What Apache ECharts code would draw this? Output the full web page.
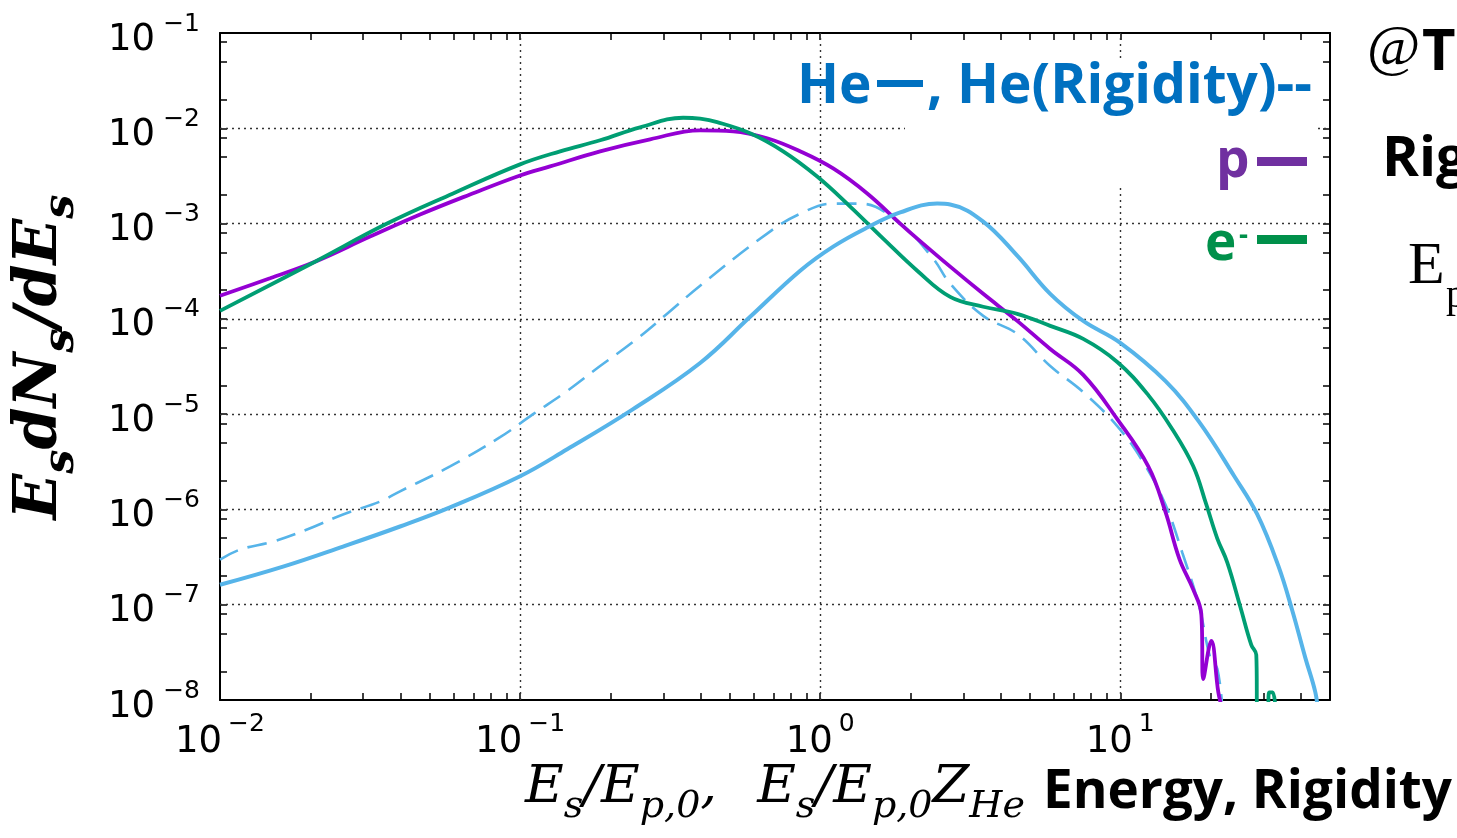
<!DOCTYPE html>
<html>
<head>
<meta charset="utf-8">
<script src="https://cdn.jsdelivr.net/npm/echarts@6/dist/echarts.min.js"></script>
<style>
html,body{margin:0;padding:0;background:#fff;}
#c{width:1457px;height:838px;}
</style>
</head>
<body>
<div id="c"></div>
<script>
// ---------- data ----------
const xTickLabels = [0.01, 0.1, 1, 10];
const yTickLabels = [1e-8, 1e-7, 1e-6, 1e-5, 1e-4, 1e-3, 1e-2, 1e-1];
const xGridValues = [0.1, 1, 10];
const yGridValues = [1e-7, 1e-6, 1e-5, 1e-4, 1e-3, 1e-2];
const xTickValues = [0.01,0.02,0.03,0.04,0.05,0.06,0.07,0.08,0.09,
  0.1,0.2,0.3,0.4,0.5,0.6,0.7,0.8,0.9,1,2,3,4,5,6,7,8,9,10,20,30,40,50];
const yTickValues = [1e-8,2e-8,5e-8,8e-8,1e-7,2e-7,5e-7,8e-7,1e-6,2e-6,5e-6,8e-6,
  1e-5,2e-5,5e-5,8e-5,1e-4,2e-4,5e-4,8e-4,1e-3,2e-3,5e-3,8e-3,1e-2,2e-2,5e-2,8e-2,1e-1];

// p (proton) spectrum
const pSpectrum = [
  [0.01,1.746e-4],[0.01468,2.67e-4],[0.02073,3.98e-4],[0.03162,7.3e-4],[0.04642,1.245e-3],
  [0.0681,2.02e-3],[0.1,3.2e-3],[0.1259,3.98e-3],[0.1848,5.73e-3],[0.2712,7.66e-3],
  [0.3981,9.53e-3],[0.5129,9.3e-3],[0.6659,7.85e-3],[0.8577,5.73e-3],[1.105,3.79e-3],
  [1.435,2.07e-3],[1.848,1.0e-3],[2.106,6.95e-4],[2.712,3.53e-4],[3.494,1.83e-4],
  [4.535,9.53e-5],[5.843,4.83e-5],[7.527,2.58e-5],[9.772,8.86e-6],[12.4,2.83e-6],
  [14.13,9.53e-7],[15.73,3.05e-7],[17.51,1.44e-7],[18.62,8.04e-8],[18.91,1.66e-8],
  [20.11,4.18e-8],[21.22,1.21e-8],[21.9,8e-9]
];
// e- spectrum
const eSpectrum = [
  [0.01,1.214e-4],[0.02073,3.98e-4],[0.03603,1.0e-3],[0.0598,2.07e-3],[0.1,4.18e-3],
  [0.136,5.73e-3],[0.1848,7.48e-3],[0.2512,1.024e-2],[0.3495,1.29e-2],[0.3981,1.26e-2],
  [0.4535,1.16e-2],[0.5843,8.86e-3],[0.7527,5.73e-3],[0.9772,3.12e-3],[1.259,1.51e-3],
  [1.622,6.95e-4],[2.106,3.2e-4],[2.712,1.70e-4],[3.494,1.34e-4],[4.535,1.13e-4],
  [5.843,8.44e-5],[7.527,6.16e-5],[9.772,3.53e-5],[12.4,1.585e-5],[14.91,6.95e-6],
  [17.51,2.835e-6],[19.35,1.128e-6],[21.06,4.95e-7],[22.74,2.77e-7],[25.12,9.53e-8],
  [27.33,3.79e-8],[28.4,2.98e-8],[28.62,8e-9],[30.9,8e-9],[31.4,1.2e-8],[32.2,1.2e-8],[32.9,8e-9]
];
// He spectrum (energy)
const heSpectrum = [
  [0.01,1.62e-7],[0.01622,2.51e-7],[0.0257,4.08e-7],[0.03981,6.62e-7],[0.05843,1.05e-6],
  [0.1,2.23e-6],[0.1435,4.28e-6],[0.238,1.13e-5],[0.3981,3.44e-5],
  [0.5843,1.05e-4],[0.8577,3.2e-4],[1.105,5.73e-4],[1.435,9.08e-4],[1.848,1.31e-3],
  [2.455,1.62e-3],[2.712,1.585e-3],[3.494,1.05e-3],[4.535,4.6e-4],[5.843,1.83e-4],
  [7.527,9.5e-5],[10.0,5.6e-5],[14.13,2.23e-5],[18.34,8.24e-6],[23.99,2.23e-6],
  [28.62,8.86e-7],[33.62,2.57e-7],[37.45,8.65e-8],[41.38,2.77e-8],[44.67,1.21e-8],[45.5,8e-9]
];
// He spectrum (rigidity)
const heRigiditySpectrum = [
  [0.01,2.98e-7],[0.01166,3.79e-7],[0.01502,4.6e-7],[0.0195,6.16e-7],[0.0257,8.86e-7],
  [0.03415,1.21e-6],[0.03981,1.55e-6],[0.05843,2.83e-6],[0.08577,5.73e-6],[0.1105,1.0e-5],
  [0.1435,1.75e-5],[0.1848,3.2e-5],[0.238,5.73e-5],[0.309,1.13e-4],[0.3981,2.23e-4],
  [0.6659,7.85e-4],[0.8577,1.27e-3],[1.105,1.62e-3],[1.359,1.62e-3],[1.848,1.0e-3],
  [2.381,4.28e-4],[2.712,2.34e-4],[3.494,1.075e-4],[4.535,6.95e-5],[5.843,3.2e-5],
  [7.527,1.70e-5],[9.772,7.48e-6],[11.93,3.13e-6],[14.13,1.13e-6],[16.09,3.53e-7],
  [18.34,9.53e-8],[19.95,2.77e-8],[21.06,2.12e-8],[21.9,8e-9]
];

// ---------- chart ----------
const chart = echarts.init(document.getElementById('c'), null, {renderer: 'canvas'});

const logLabel = v => {
  const e = Math.round(Math.log10(v));
  return '{b|10}{s|' + (e < 0 ? '\u2212' : '') + Math.abs(e) + '}';
};
const richX = {
  b: {fontFamily: 'DejaVu Sans', fontSize: 37, lineHeight: 37, color: '#000', padding: [16, 0, 0, 0]},
  s: {fontFamily: 'DejaVu Sans', fontSize: 25, lineHeight: 25, color: '#000', padding: [4, 0, 24, 6]}
};
const richY = {
  b: {fontFamily: 'DejaVu Sans', fontSize: 37, lineHeight: 37, color: '#000', padding: [14, 0, 0, 0]},
  s: {fontFamily: 'DejaVu Sans', fontSize: 25, lineHeight: 25, color: '#000', padding: [4, 0, 22, 8]}
};
const tickStyle = {color: '#000', width: 1.5};
const gridStyle = {color: '#333', width: 1.4, type: [2, 4]};

function xAx(extra) {
  return Object.assign({
    type: 'log', logBase: 10, min: 0.01, max: 50,
    axisLine: {show: false, onZero: false, lineStyle: {color: '#000', width: 2}},
    axisTick: {show: false},
    axisLabel: {show: false},
    splitLine: {show: false},
    minorTick: {show: false}, minorSplitLine: {show: false}
  }, extra);
}
function yAx(extra) {
  return Object.assign({
    type: 'log', logBase: 10, min: 1e-8, max: 1e-1,
    axisLine: {show: false, onZero: false, lineStyle: {color: '#000', width: 2}},
    axisTick: {show: false},
    axisLabel: {show: false},
    splitLine: {show: false},
    minorTick: {show: false}, minorSplitLine: {show: false}
  }, extra);
}

const option = {
  animation: false,
  backgroundColor: '#fff',
  grid: {left: 220, right: 127, top: 33, bottom: 138, containLabel: false},
  xAxis: [
    xAx({position: 'bottom',
      axisLine: {show: true, onZero: false, lineStyle: {color: '#000', width: 2}},
      axisTick: {show: true, inside: true, length: 7, customValues: xTickValues, lineStyle: tickStyle},
      axisLabel: {show: true, customValues: xTickLabels, formatter: logLabel, rich: richX, margin: 16,
        showMinLabel: true, showMaxLabel: true}
    }),
    xAx({position: 'top',
      axisLine: {show: true, onZero: false, lineStyle: {color: '#000', width: 2}},
      axisTick: {show: true, inside: true, length: 7, customValues: xTickValues, lineStyle: tickStyle}
    }),
    xAx({position: 'bottom',
      axisTick: {show: true, inside: true, length: 667, customValues: xGridValues, lineStyle: gridStyle}
    })
  ],
  yAxis: [
    yAx({position: 'left',
      axisLine: {show: true, onZero: false, lineStyle: {color: '#000', width: 2}},
      axisTick: {show: true, inside: true, length: 7, customValues: yTickValues, lineStyle: tickStyle},
      axisLabel: {show: true, customValues: yTickLabels, formatter: logLabel, rich: richY, margin: 20,
        showMinLabel: true, showMaxLabel: true}
    }),
    yAx({position: 'right',
      axisLine: {show: true, onZero: false, lineStyle: {color: '#000', width: 2}},
      axisTick: {show: true, inside: true, length: 7, customValues: yTickValues, lineStyle: tickStyle}
    }),
    yAx({position: 'left',
      axisTick: {show: true, inside: true, length: 1110, customValues: yGridValues, lineStyle: gridStyle}
    })
  ],
  series: [
    {type: 'line', name: 'He (Rigidity)', data: heRigiditySpectrum, xAxisIndex: 0, yAxisIndex: 0,
      showSymbol: false, smooth: 0.4, clip: true, z: 3,
      lineStyle: {color: '#56B4E9', width: 2.6, type: [20, 10]}},
    {type: 'line', name: 'p', data: pSpectrum, xAxisIndex: 0, yAxisIndex: 0,
      showSymbol: false, smooth: 0.4, clip: true, z: 4,
      lineStyle: {color: '#9400D3', width: 3.8}},
    {type: 'line', name: 'e-', data: eSpectrum, xAxisIndex: 0, yAxisIndex: 0,
      showSymbol: false, smooth: 0.4, clip: true, z: 5,
      lineStyle: {color: '#009E73', width: 3.8}},
    {type: 'line', name: 'He', data: heSpectrum, xAxisIndex: 0, yAxisIndex: 0,
      showSymbol: false, smooth: 0.4, clip: true, z: 6,
      lineStyle: {color: '#56B4E9', width: 4}}
  ],
  graphic: [
    // white box behind legend text
    {type: 'rect', z: 1, shape: {x: 905, y: 58, width: 412, height: 128}, style: {fill: '#fff'}},
    {type: 'text', z: 10, x: 797, y: 87, style: {text: 'He', font: 'bold 55px "Open Sans"', fill: '#0070C0', align: 'left', verticalAlign: 'middle'}},
    {type: 'rect', z: 10, shape: {x: 877, y: 80, width: 46, height: 7}, style: {fill: '#0070C0'}},
    {type: 'text', z: 10, x: 927, y: 87, style: {text: ', He(Rigidity)--', font: 'bold 55px "Open Sans"', fill: '#0070C0', align: 'left', verticalAlign: 'middle'}},
    {type: 'text', z: 10, x: 1216, y: 162, style: {text: 'p', font: 'bold 53px "Open Sans"', fill: '#7030A0', align: 'left', verticalAlign: 'middle'}},
    {type: 'rect', z: 10, shape: {x: 1257, y: 157, width: 50, height: 9}, style: {fill: '#7030A0'}},
    {type: 'text', z: 10, x: 1205, y: 245, style: {text: 'e', font: 'bold 53px "Open Sans"', fill: '#00904A', align: 'left', verticalAlign: 'middle'}},
    {type: 'text', z: 10, x: 1239, y: 236, style: {text: '-', font: 'bold 28px "Open Sans"', fill: '#00904A', align: 'left', verticalAlign: 'middle'}},
    {type: 'rect', z: 10, shape: {x: 1257, y: 235, width: 50, height: 9}, style: {fill: '#00904A'}},
    // right side, cut-off annotations
    {type: 'text', z: 10, x: 1367, y: 50, style: {text: '@', font: '58px "Liberation Serif"', fill: '#000', align: 'left', verticalAlign: 'middle'}},
    {type: 'text', z: 10, x: 1422, y: 53, style: {text: 'T', font: 'bold 58px "Open Sans"', fill: '#000', align: 'left', verticalAlign: 'middle'}},
    {type: 'text', z: 10, x: 1382, y: 160, style: {text: 'Rig', font: 'bold 56px "Open Sans"', fill: '#000', align: 'left', verticalAlign: 'middle'}},
    {type: 'text', z: 10, x: 1408, y: 267, style: {text: 'E', font: '60px "Liberation Serif"', fill: '#000', align: 'left', verticalAlign: 'middle'}},
    {type: 'text', z: 10, x: 1446, y: 296, style: {text: 'p', font: '40px "Liberation Serif"', fill: '#000', align: 'left', verticalAlign: 'middle'}},
    // x axis title
    {type: 'text', z: 10, x: 525, y: 772, style: {
      text: '{i|E}{s|s}{i|/E}{s|p,0}{i|,}{g| }{i|E}{s|s}{i|/E}{s|p,0}{i|Z}{s|He}',
      align: 'left', verticalAlign: 'top',
      rich: {
        i: {fontFamily: 'DejaVu Serif', fontStyle: 'italic', fontSize: 53, lineHeight: 53, padding: [0, 0, 21, 0], fill: '#000'},
        s: {fontFamily: 'DejaVu Serif', fontStyle: 'italic', fontSize: 38, lineHeight: 38, padding: [27, 0, 9, 0], fill: '#000'},
        g: {fontSize: 53, lineHeight: 53, width: 40, padding: [0, 0, 21, 0]}
      }
    }},
    {type: 'text', z: 10, x: 1043, y: 793, style: {text: 'Energy, Rigidity', font: 'bold 53px "Open Sans"', fill: '#000', align: 'left', verticalAlign: 'middle'}},
    // y axis title (rotated)
    {type: 'text', z: 10, x: 48, y: 357, rotation: Math.PI / 2, style: {
      text: '{m|E}{s|s}{m|dN}{s|s}{m|/dE}{s|s}',
      align: 'center', verticalAlign: 'middle',
      rich: {
        m: {fontFamily: 'DejaVu Serif', fontStyle: 'italic', fontWeight: 'bold', fontSize: 60, lineHeight: 60, padding: [0, 0, 16, 0], fill: '#000'},
        s: {fontFamily: 'DejaVu Serif', fontStyle: 'italic', fontWeight: 'bold', fontSize: 43, lineHeight: 43, padding: [30, 0, 3, 0], fill: '#000'}
      }
    }}
  ]
};
chart.setOption(option);
</script>
</body>
</html>
